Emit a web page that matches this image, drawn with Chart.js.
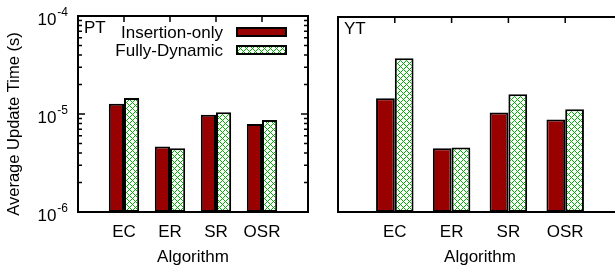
<!DOCTYPE html>
<html>
<head>
<meta charset="utf-8">
<script src="https://cdn.jsdelivr.net/npm/chart.js@4"></script>
<style>
  html, body { margin: 0; padding: 0; background: #fff; overflow: hidden; width: 615px; height: 271px; }
  #pt { position: absolute; left: 0; top: 0; }
  #yt { position: absolute; left: 310px; top: 0; }
</style>
</head>
<body>
<canvas id="pt" width="310" height="271"></canvas>
<canvas id="yt" width="314" height="271"></canvas>
<script>
// dati (secondi per aggiornamento)
const categories = ["EC", "ER", "SR", "OSR"];
const seriesNames = ["Insertion-only", "Fully-Dynamic"];
const ptInsertion = [1.27e-5, 4.66e-6, 9.8e-6, 7.9e-6];
const ptDynamic = [1.46e-5, 4.48e-6, 1.04e-5, 8.7e-6];
const ytInsertion = [1.47e-5, 4.5e-6, 1.05e-5, 8.9e-6];
const ytDynamic = [3.78e-5, 4.6e-6, 1.61e-5, 1.13e-5];
const yTicks = [1e-6, 1e-5, 1e-4];
const yTickExponents = ["-6", "-5", "-4"];

const FONT = "Liberation Sans, Arial, Helvetica, sans-serif";
const RED = "#990000";
const GREEN = "#00b000";

// tratteggio incrociato verde su bianco, pixel per pixel per avere linee nette
function crossHatch() {
  const n = 6;
  const c = document.createElement("canvas");
  c.width = n; c.height = n;
  const g = c.getContext("2d");
  g.fillStyle = "#fff";
  g.fillRect(0, 0, n, n);
  g.fillStyle = GREEN;
  for (let i = 0; i < n; i++) {
    g.fillRect(i, i, 1, 1);
    g.fillRect(i, (n - i) % n, 1, 1);
  }
  return g.createPattern(c, "repeat");
}
const hatch = crossHatch();

// le categorie stanno in 1..4 su un asse 0..5, come in gnuplot
const labels = ["", ...categories, ""];
const pad = arr => [null, ...arr, null];

const framePlugin = {
  id: "frame",
  afterDatasetsDraw(chart, args, opts) {
    const { ctx, chartArea: a, scales: { x, y } } = chart;
    ctx.save();
    ctx.strokeStyle = "#000";
    ctx.lineWidth = 1.5;
    ctx.beginPath();
    // tacche in alto sulle categorie
    for (let i = 1; i <= categories.length; i++) {
      const px = x.getPixelForValue(i);
      ctx.moveTo(px, a.top); ctx.lineTo(px, a.top + 6);
    }
    if (opts.yTicks) {
      yTicks.forEach((v, i) => {
        const py = y.getPixelForValue(v);
        ctx.moveTo(a.left, py); ctx.lineTo(a.left + 7, py);
        ctx.moveTo(a.right, py); ctx.lineTo(a.right - 7, py);
        if (i < yTicks.length - 1) {
          for (let k = 2; k <= 9; k++) {
            const pm = y.getPixelForValue(v * k);
            ctx.moveTo(a.left, pm); ctx.lineTo(a.left + 4, pm);
            ctx.moveTo(a.right, pm); ctx.lineTo(a.right - 4, pm);
          }
        }
      });
    }
    ctx.stroke();
    ctx.lineWidth = 2;
    ctx.strokeRect(a.left, a.top, a.right - a.left, a.bottom - a.top);

    ctx.fillStyle = "#000";
    ctx.font = "17px " + FONT;
    ctx.textBaseline = "alphabetic";
    ctx.textAlign = "left";
    ctx.fillText(opts.panel, a.left + 6, a.top + 17);

    if (opts.yTicks) {
      // etichette 10^n con apice
      yTicks.forEach((v, i) => {
        const py = y.getPixelForValue(v);
        ctx.font = "12px " + FONT;
        ctx.textAlign = "right";
        ctx.fillText(yTickExponents[i], 68, py);
        const w = ctx.measureText(yTickExponents[i]).width;
        ctx.font = "17px " + FONT;
        ctx.fillText("10", 68 - w - 1, py + 9);
      });
      ctx.save();
      ctx.translate(19, 124);
      ctx.rotate(-Math.PI / 2);
      ctx.textAlign = "center";
      ctx.font = "16.5px " + FONT;
      ctx.fillText("Average Update Time (s)", 0, 0);
      ctx.restore();
    }

    if (opts.legend) {
      ctx.font = "17px " + FONT;
      ctx.textAlign = "right";
      chart.data.datasets.forEach((ds, i) => {
        const cy = 32 + i * 18;
        ctx.fillStyle = "#000";
        ctx.fillText(ds.label, 223, cy + 6);
        ctx.fillStyle = ds.backgroundColor;
        ctx.fillRect(237, cy - 4, 49, 8);
        ctx.lineWidth = 2;
        ctx.strokeRect(237, cy - 4, 49, 8);
      });
    }
    ctx.restore();
  }
};

function makeChart(id, insertion, dynamic, opts) {
  return new Chart(document.getElementById(id), {
    type: "bar",
    data: {
      labels: labels,
      datasets: [
        { label: seriesNames[0], data: pad(insertion), backgroundColor: RED },
        { label: seriesNames[1], data: pad(dynamic), backgroundColor: hatch }
      ]
    },
    options: {
      responsive: false,
      animation: false,
      devicePixelRatio: 1,
      layout: { padding: opts.padding },
      datasets: {
        bar: {
          borderColor: "#000",
          borderWidth: 2,
          borderSkipped: false,
          categoryPercentage: 0.66,
          barPercentage: 1
        }
      },
      scales: {
        x: {
          type: "category",
          offset: false,
          grid: { display: false },
          border: { display: false },
          ticks: { autoSkip: false, maxRotation: 0, color: "#000", padding: 2, font: { family: FONT, size: 17 } },
          title: { display: true, text: "Algorithm", color: "#000", padding: { top: 0, bottom: 3 }, font: { family: FONT, size: 17 } },
          afterFit: s => { s.height = 59; }
        },
        y: {
          type: "logarithmic",
          min: yTicks[0],
          max: yTicks[yTicks.length - 1],
          grid: { display: false },
          border: { display: false },
          ticks: { display: false },
          afterFit: s => { s.width = opts.axisWidth; }
        }
      },
      plugins: {
        legend: { display: false },
        tooltip: { enabled: false },
        frame: opts.frame
      }
    },
    plugins: [framePlugin]
  });
}

makeChart("pt", ptInsertion, ptDynamic, {
  padding: { top: 16, right: 2, left: 0, bottom: 0 },
  axisWidth: 78,
  frame: { panel: "PT", yTicks: true, legend: true }
});
makeChart("yt", ytInsertion, ytDynamic, {
  padding: { top: 17, right: 0, left: 0, bottom: 0 },
  axisWidth: 28,
  frame: { panel: "YT", yTicks: false, legend: false }
});
</script>
</body>
</html>
